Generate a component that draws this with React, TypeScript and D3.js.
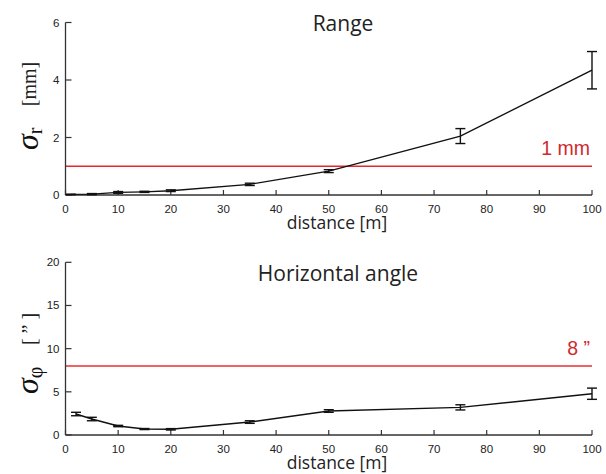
import React from 'react';
import * as d3 from 'd3';

// Range precision (mm)
const rangeDist = [1, 5, 10, 15, 20, 35, 50, 75, 100];
const rangeSigma = [0.02, 0.03, 0.09, 0.11, 0.15, 0.37, 0.83, 2.05, 4.34];
const rangeErr = [0.01, 0.02, 0.03, 0.02, 0.03, 0.04, 0.05, 0.26, 0.65];

// Horizontal angle precision (")
const angleDist = [2, 5, 10, 15, 20, 35, 50, 75, 100];
const angleSigma = [2.43, 1.85, 1.04, 0.69, 0.66, 1.5, 2.78, 3.2, 4.78];
const angleErr = [0.2, 0.2, 0.08, 0.06, 0.08, 0.15, 0.15, 0.3, 0.65];

const xTicks = [0, 10, 20, 30, 40, 50, 60, 70, 80, 90, 100];
const rangeTicks = [0, 2, 4, 6];
const angleTicks = [0, 5, 10, 15, 20];

const W = 606;
const H = 474;

type PanelProps = {
  top: number;
  bottom: number;
  ymax: number;
  yTicks: number[];
  dist: number[];
  sigma: number[];
  err: number[];
  limit: number;
  limitLabel: string;
  limitColor: string;
  limitWidth: number;
  title: string;
  titleX: number;
  titleY: number;
  sym: string;
  sub: string;
  unit: string;
  symY: number;
  unitY: number;
};

function Panel(p: PanelProps) {
  const x = d3.scaleLinear().domain([0, 100]).range([65.5, 592]);
  const y = d3.scaleLinear().domain([0, p.ymax]).range([p.bottom, p.top]);
  const pts = p.dist.map((d, i) => ({ d, v: p.sigma[i], e: p.err[i] }));
  const line = d3.line<{ d: number; v: number }>()
    .x(d => x(d.d))
    .y(d => y(d.v));
  const axisColor = '#333';
  return (
    <g>
      <text x={p.titleX} y={p.titleY} textAnchor="middle" fontFamily="Open Sans, sans-serif"
        fontSize={21} fill="#222">{p.title}</text>

      {/* threshold */}
      <line x1={x(0)} x2={x(100)} y1={y(p.limit)} y2={y(p.limit)}
        stroke={p.limitColor} strokeWidth={p.limitWidth} />
      <text x={x(100) - 2} y={y(p.limit) - 11} textAnchor="end" fontFamily="Liberation Sans, Arial, sans-serif"
        fontSize={19.5} fill="#cf2a2f">{p.limitLabel}</text>

      {/* axes */}
      <line x1={x(0)} x2={x(0)} y1={p.top} y2={p.bottom} stroke={axisColor} strokeWidth={1.3} />
      <line x1={x(0)} x2={x(100)} y1={p.bottom} y2={p.bottom} stroke={axisColor} strokeWidth={1.3} />
      {xTicks.map(t => (
        <g key={'x' + t}>
          <line x1={x(t)} x2={x(t)} y1={p.bottom} y2={p.bottom - 5} stroke={axisColor} strokeWidth={1.2} />
          <text x={x(t)} y={p.bottom + 18} textAnchor="middle" fontFamily="Liberation Sans, Arial, sans-serif"
            fontSize={11.5} fill="#222">{t}</text>
        </g>
      ))}
      {p.yTicks.map(t => (
        <g key={'y' + t}>
          <line x1={x(0)} x2={x(0) + 6} y1={y(t)} y2={y(t)} stroke={axisColor} strokeWidth={1.2} />
          <text x={x(0) - 6} y={y(t) + 4} textAnchor="end" fontFamily="Liberation Sans, Arial, sans-serif"
            fontSize={11.5} fill="#222">{t}</text>
        </g>
      ))}
      <text x={337} y={p.bottom + 34} textAnchor="middle" fontFamily="Open Sans, sans-serif"
        fontSize={17.5} fill="#222">distance [m]</text>

      {/* y label */}
      <g transform={`translate(38,${p.symY}) rotate(-90)`}>
        <text fontFamily="Liberation Serif, serif" fill="#111">
          <tspan fontSize={32} fontStyle="italic">{p.sym}</tspan>
          <tspan fontSize={20} dy={4}>{p.sub}</tspan>
        </text>
      </g>
      <g transform={`translate(36,${p.unitY}) rotate(-90)`}>
        <text fontFamily="Liberation Serif, serif" fontSize={20} fill="#222" textAnchor="middle">{p.unit}</text>
      </g>

      {/* data */}
      <path d={line(pts) || ''} fill="none" stroke="#111" strokeWidth={1.4} />
      {pts.map((d, i) => (
        <g key={'e' + i} stroke="#111" strokeWidth={1.4}>
          <line x1={x(d.d)} x2={x(d.d)} y1={y(d.v - d.e)} y2={y(d.v + d.e)} />
          <line x1={x(d.d) - 5} x2={x(d.d) + 5} y1={y(d.v - d.e)} y2={y(d.v - d.e)} />
          <line x1={x(d.d) - 5} x2={x(d.d) + 5} y1={y(d.v + d.e)} y2={y(d.v + d.e)} />
        </g>
      ))}
    </g>
  );
}

export default function App() {
  return (
    <svg width={W} height={H} style={{ display: 'block', position: 'absolute', left: 0, top: 0, background: '#fff' }}>
      <rect width={W} height={H} fill="#fff" />
      <Panel top={22.5} bottom={195} ymax={6} yTicks={rangeTicks}
        dist={rangeDist} sigma={rangeSigma} err={rangeErr}
        limit={1} limitLabel="1 mm" limitColor="#e8262b" limitWidth={1.3}
        title="Range" titleX={343} titleY={31}
        sym={'\u03C3'} sub="r" unit="[mm]" symY={150} unitY={84} />
      <Panel top={262.3} bottom={435} ymax={20} yTicks={angleTicks}
        dist={angleDist} sigma={angleSigma} err={angleErr}
        limit={8} limitLabel={'8 \u201D'} limitColor="#ee6464" limitWidth={2}
        title="Horizontal angle" titleX={338} titleY={281}
        sym={'\u03C3'} sub={'\u03C6'} unit={'[ \u201D ]'} symY={394} unitY={329} />
    </svg>
  );
}
